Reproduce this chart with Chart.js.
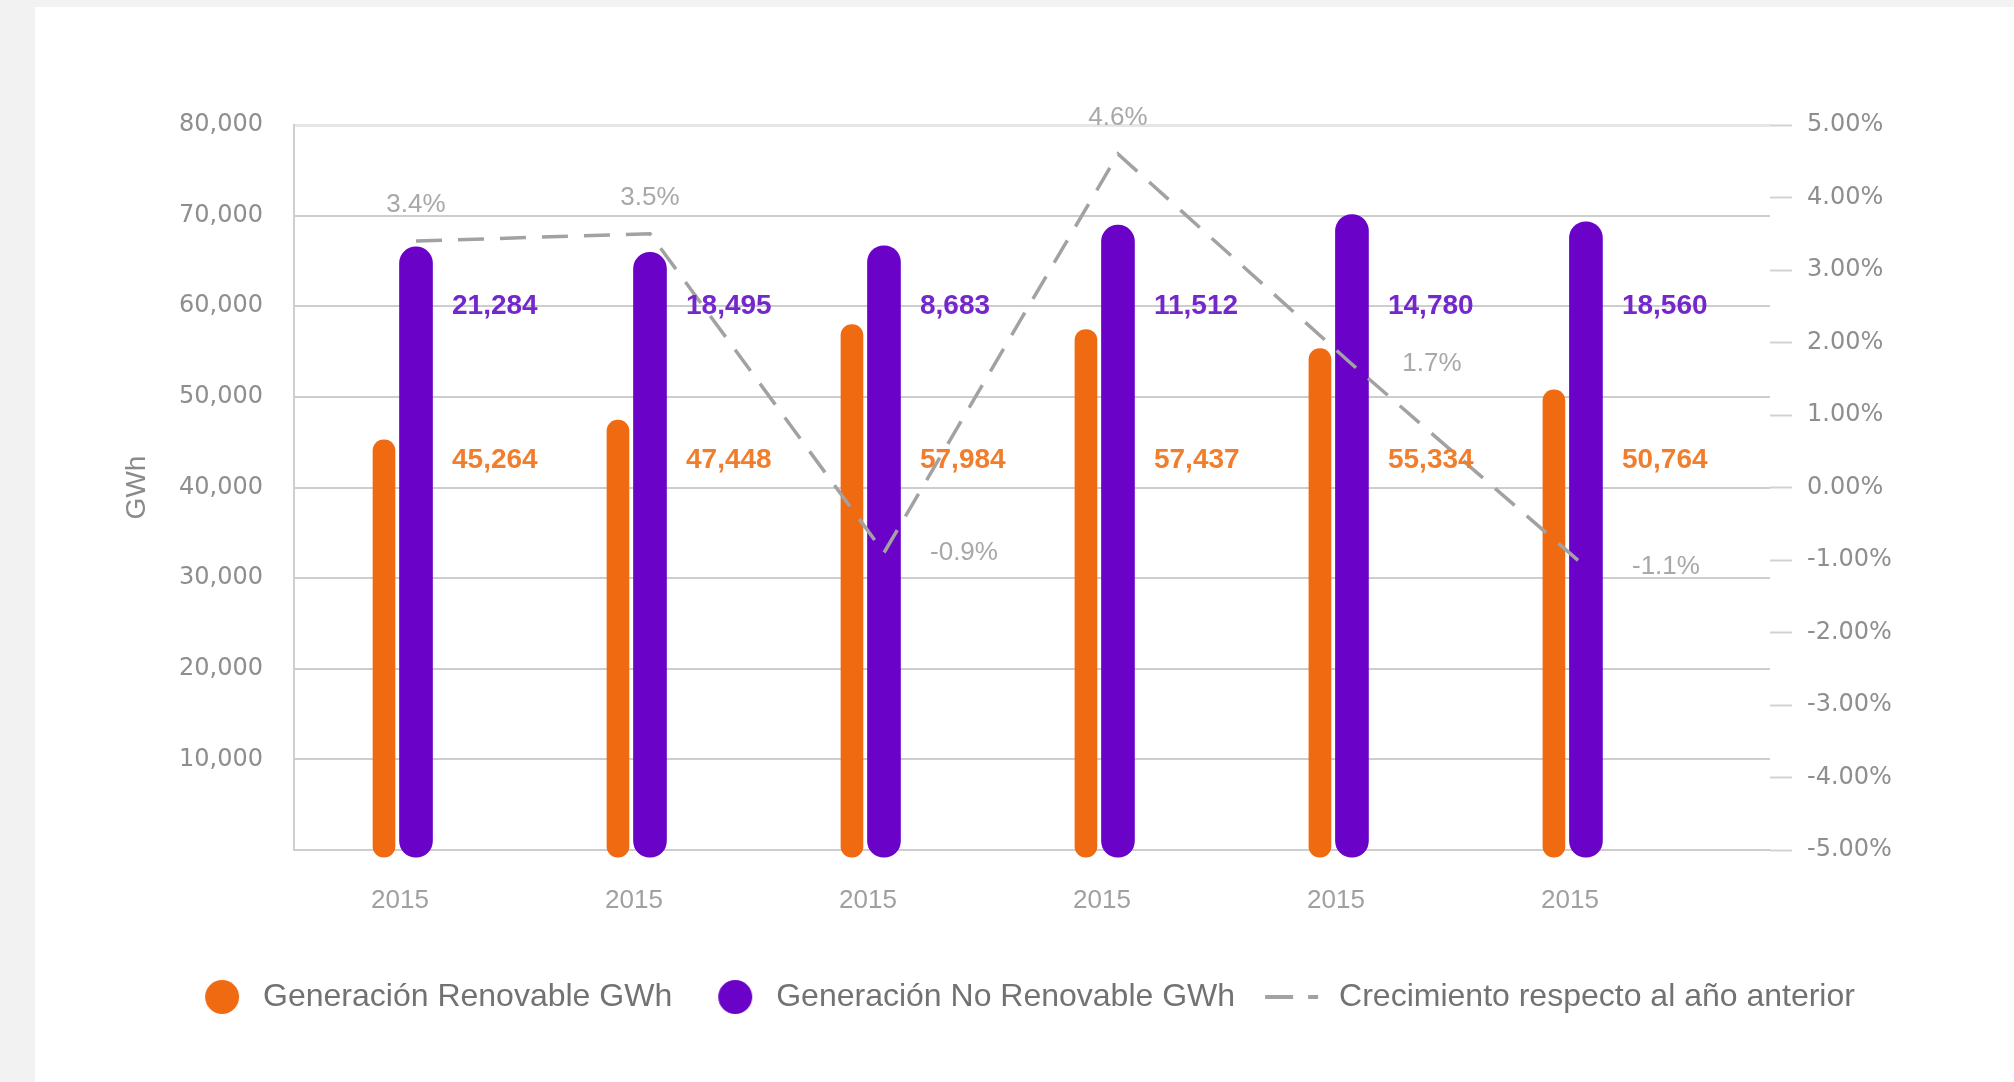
<!DOCTYPE html>
<html lang="es">
<head>
<meta charset="utf-8">
<title>Generación renovable y no renovable</title>
<script src="https://cdn.jsdelivr.net/npm/chart.js@4.4.1/dist/chart.umd.min.js"></script>
<style>
    html, body { margin: 0; padding: 0; background: #f2f2f2; }
    .tarjeta { position: absolute; left: 35px; top: 7px; right: 0; bottom: 0; background: #fff; }
    .contenedor { position: absolute; left: 0; top: 0; width: 2014px; height: 1082px; }
</style>
</head>
<body>
<div class="tarjeta"></div>
<div class="contenedor"><canvas id="graficoGeneracion"></canvas></div>
<script>
// datos
const anios = ['2015', '2015', '2015', '2015', '2015', '2015'];
const renovableGWh = [45264, 47448, 57984, 57437, 55334, 50764];
const noRenovableGWh = [21284, 18495, 8683, 11512, 14780, 18560];
const crecimiento = [3.4, 3.5, -0.9, 4.6, 1.7, -1.1];
const ticksGWh = [0, 10000, 20000, 30000, 40000, 50000, 60000, 70000, 80000];
const ticksPorcentaje = [-5, -4, -3, -2, -1, 0, 1, 2, 3, 4, 5];

const NARANJA = '#f06a12';
const MORADO = '#6a02c8';
const GRIS_LINEA = '#a2a2a2';
const GRIS_TEXTO = '#8e8e8e';
const GRIS_LEYENDA = '#727272';

// rango del eje x para dejar las categorias donde van en el original
const X_MIN = -0.453;
const X_MAX = 5.855;
// cada serie de barras va un poco a un lado del centro de la categoria
const DESPLAZ = 0.0684;

Chart.defaults.font.family = "'Liberation Sans', Arial, sans-serif";

// iconos de la leyenda (el punto algo a la izquierda, como en el original)
function iconoPunto(color) {
    const cv = document.createElement('canvas');
    cv.width = 64;
    cv.height = 40;
    const c = cv.getContext('2d');
    c.fillStyle = color;
    c.beginPath();
    c.arc(23, 20, 17, 0, Math.PI * 2);
    c.fill();
    return cv;
}

function iconoGuiones() {
    const cv = document.createElement('canvas');
    cv.width = 100;
    cv.height = 8;
    const c = cv.getContext('2d');
    c.strokeStyle = GRIS_LINEA;
    c.lineWidth = 4;
    c.setLineDash([28, 15]);
    c.beginPath();
    c.moveTo(8, 4);
    c.lineTo(61, 4);
    c.stroke();
    return cv;
}

const etiquetasValores = {
    id: 'etiquetasValores',
    afterDatasetsDraw(chart) {
        const { ctx, scales } = chart;
        const metaMorado = chart.getDatasetMeta(1);
        ctx.save();
        ctx.textAlign = 'left';
        ctx.textBaseline = 'middle';
        ctx.font = "bold 28px 'Liberation Sans'";
        anios.forEach((a, i) => {
            const px = scales.x.getPixelForValue(i) + 52;
            ctx.fillStyle = '#7428cc';
            ctx.fillText(noRenovableGWh[i].toLocaleString('en-US'), px, scales.y.getPixelForValue(60000));
            ctx.fillStyle = '#f07e2c';
            ctx.fillText(renovableGWh[i].toLocaleString('en-US'), px, scales.y.getPixelForValue(43000));
        });

        ctx.font = "26px 'Liberation Sans'";
        ctx.fillStyle = '#a8a8a8';
        ctx.textAlign = 'center';
        crecimiento.forEach((v, i) => {
            const px = scales.xMorado.getPixelForValue(i);
            const py = scales.y2.getPixelForValue(v);
            const texto = v.toFixed(1) + '%';
            // si el punto cae sobre la barra, la etiqueta va a la derecha
            if (py > metaMorado.data[i].y) {
                ctx.fillText(texto, px + 80, py);
            } else {
                ctx.fillText(texto, px, py - 36);
            }
        });
        ctx.restore();
    }
};

const ejeOculto = (min, max) => ({
    type: 'linear',
    display: false,
    bounds: 'data',
    offset: false,
    min: min,
    max: max
});

new Chart(document.getElementById('graficoGeneracion'), {
    type: 'bar',
    data: {
        datasets: [{
            label: 'Generación Renovable GWh',
            data: anios.map((a, i) => ({ x: i, y: renovableGWh[i] })),
            xAxisID: 'xNaranja',
            backgroundColor: NARANJA,
            borderRadius: 40,
            borderSkipped: false,
            grouped: false,
            barThickness: 22,
            base: -800,
            clip: false,
            order: 1
        }, {
            label: 'Generación No Renovable GWh',
            // la barra morada llega al total de generacion
            data: anios.map((a, i) => ({ x: i, y: renovableGWh[i] + noRenovableGWh[i] })),
            xAxisID: 'xMorado',
            backgroundColor: MORADO,
            borderRadius: 40,
            borderSkipped: false,
            grouped: false,
            barThickness: 33,
            base: -800,
            clip: false,
            order: 1
        }, {
            type: 'line',
            label: 'Crecimiento respecto al año anterior',
            data: anios.map((a, i) => ({ x: i, y: crecimiento[i] })),
            xAxisID: 'xMorado',
            yAxisID: 'y2',
            borderColor: GRIS_LINEA,
            borderWidth: 3.5,
            borderDash: [26, 16],
            pointRadius: 0,
            tension: 0,
            fill: false,
            order: 0
        }]
    },
    options: {
        responsive: true,
        maintainAspectRatio: false,
        animation: false,
        layout: {
            padding: { left: 64, right: 8, top: 125, bottom: 59 }
        },
        scales: {
            x: {
                type: 'linear',
                bounds: 'data',
                offset: false,
                min: X_MIN,
                max: X_MAX,
                afterBuildTicks: (s) => { s.ticks = anios.map((a, i) => ({ value: i })); },
                afterFit: (s) => { s.height = 75; },
                grid: { display: false, drawTicks: false, offset: false },
                border: { display: false },
                ticks: {
                    padding: 35,
                    color: '#a0a0a0',
                    font: { size: 26 },
                    callback: (v) => anios[v]
                }
            },
            xNaranja: ejeOculto(X_MIN + DESPLAZ, X_MAX + DESPLAZ),
            xMorado: ejeOculto(X_MIN - DESPLAZ, X_MAX - DESPLAZ),
            y: {
                position: 'left',
                min: 0,
                max: 80000,
                afterBuildTicks: (s) => { s.ticks = ticksGWh.map(v => ({ value: v })); },
                afterFit: (s) => { s.width = 230; },
                title: {
                    display: true,
                    text: 'GWh',
                    color: '#8a8a8a',
                    font: { size: 28 },
                    padding: { top: 56, bottom: 0 }
                },
                grid: {
                    drawTicks: false,
                    lineWidth: (c) => c.tick && c.tick.value === 80000 ? 3 : 2,
                    color: (c) => c.tick && c.tick.value === 80000 ? '#e6e6e6' : '#cdcdcd'
                },
                border: { display: true, color: '#cfcfcf', width: 2 },
                ticks: {
                    padding: 31,
                    color: GRIS_TEXTO,
                    font: { family: "'DejaVu Sans'", size: 24 },
                    callback: (v) => v === 0 ? '' : v.toLocaleString('en-US')
                }
            },
            y2: {
                position: 'right',
                min: -5,
                max: 5,
                afterBuildTicks: (s) => { s.ticks = ticksPorcentaje.map(v => ({ value: v })); },
                afterFit: (s) => { s.width = 236; },
                grid: {
                    drawOnChartArea: false,
                    drawTicks: true,
                    tickLength: 22,
                    tickColor: '#d2d2d2',
                    tickWidth: 2
                },
                border: { display: false },
                ticks: {
                    padding: 15,
                    color: GRIS_TEXTO,
                    font: { family: "'DejaVu Sans'", size: 24 },
                    callback: (v) => v.toFixed(2) + '%'
                }
            }
        },
        plugins: {
            tooltip: { enabled: false },
            legend: {
                position: 'bottom',
                labels: {
                    usePointStyle: true,
                    boxHeight: 24,
                    padding: 56,
                    color: GRIS_LEYENDA,
                    font: { size: 32 },
                    generateLabels: () => [{
                        text: 'Generación Renovable GWh',
                        fontColor: GRIS_LEYENDA,
                        fillStyle: NARANJA,
                        strokeStyle: NARANJA,
                        lineWidth: 0,
                        pointStyle: iconoPunto(NARANJA),
                        datasetIndex: 0
                    }, {
                        text: 'Generación No Renovable GWh',
                        fontColor: GRIS_LEYENDA,
                        fillStyle: MORADO,
                        strokeStyle: MORADO,
                        lineWidth: 0,
                        pointStyle: iconoPunto(MORADO),
                        datasetIndex: 1
                    }, {
                        text: 'Crecimiento respecto al año anterior',
                        fontColor: GRIS_LEYENDA,
                        fillStyle: 'rgba(0,0,0,0)',
                        strokeStyle: GRIS_LINEA,
                        lineWidth: 0,
                        pointStyle: iconoGuiones(),
                        datasetIndex: 2
                    }]
                }
            }
        }
    },
    plugins: [etiquetasValores]
});
</script>
</body>
</html>
